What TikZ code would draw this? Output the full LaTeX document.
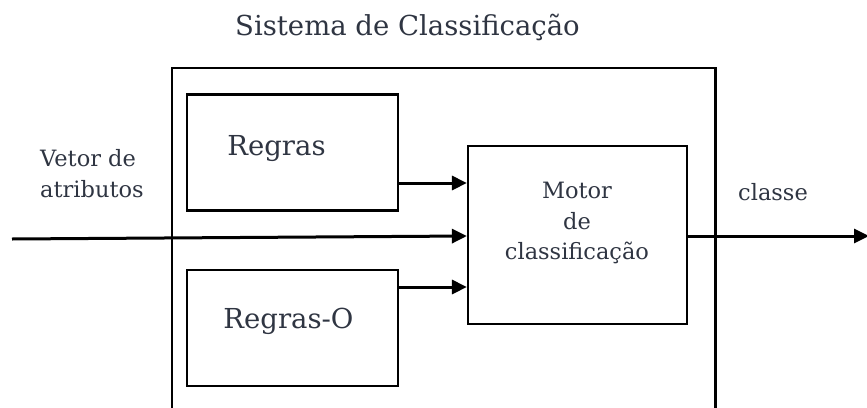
\documentclass[tikz,border=0pt]{standalone}
\usepackage{fontspec}
\setmainfont{DejaVu Serif}
\usepackage{tikz}
\usetikzlibrary{arrows.meta, positioning, calc}
\definecolor{texto}{HTML}{2F3542}

\begin{document}
\begin{tikzpicture}[x=1pt, y=-1pt,
    caixa/.style={draw, line width=2.2pt, minimum width=211pt, minimum height=116pt, inner sep=0pt},
    rotulo/.style={text=texto, inner sep=0pt, font=\fontsize{22.5}{30.5}\selectfont},
    grande/.style={rotulo, font=\fontsize{27.5}{33}\selectfont},
    seta/.style={line width=3pt, -{Triangle[length=15pt, width=14pt]}}]
  \useasboundingbox (0,0) rectangle (867,407);
  % caixa do sistema (cortada em baixo)
  \node[draw, line width=2.2pt, minimum width=543.5pt, minimum height=352pt, inner sep=0pt] (sistema) at (443.75,244) {};
  \node[grande, anchor=base] (titulo) at (407.5,35) {Sistema de Classificação};
  % blocos internos
  \node[caixa] (regras) at (292.75,152.5) {};
  \node[grande, anchor=base] (regrasTxt) at (276.5,155) {Regras};
  \node[caixa] (regrasO) at (292.75,327.7) {};
  \node[grande, anchor=base] (regrasOTxt) at (288.5,328) {Regras-O};
  \node[caixa, minimum width=219pt, minimum height=178pt] (motor) at (577.5,235) {};
  \node[rotulo, align=center, anchor=base] (motorTxt) at (577,259.5) {Motor\\de\\classificação};
  % entrada e saida
  \node[rotulo, align=left, anchor=base west] (vetor) at (40,197) {Vetor de\\atributos};
  \node[rotulo, anchor=base west] (classe) at (738,200) {classe};
  \coordinate (entrada) at (12,239);
  \coordinate (saida) at (869,236);
  \draw[seta] ([yshift=-30.5pt]regras.east) -- ([yshift=-30.5pt]regras.east -| motor.west);
  \draw[seta] ([yshift=40.7pt]regrasO.east) -- ([yshift=40.7pt]regrasO.east -| motor.west);
  \draw[seta] (entrada) -- ([yshift=-1pt]motor.west);
  \draw[seta] ([yshift=-1pt]motor.east) -- (saida);
\end{tikzpicture}
\end{document}
